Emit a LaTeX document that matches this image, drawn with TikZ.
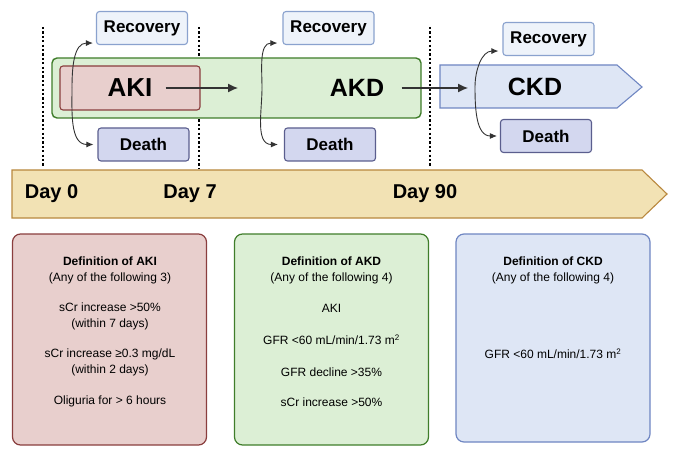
\documentclass[tikz,border=0pt]{standalone}
\usepackage{fontspec}
\setmainfont{Liberation Sans}
\usetikzlibrary{arrows.meta}

\definecolor{recfill}{HTML}{EEF3FA}
\definecolor{recline}{HTML}{8AA2CE}
\definecolor{deathfill}{HTML}{D3D7EF}
\definecolor{deathline}{HTML}{5B5E8E}
\definecolor{akifill}{HTML}{E8CFCD}
\definecolor{akiline}{HTML}{8A3E3E}
\definecolor{akdfill}{HTML}{DCEFD5}
\definecolor{akdline}{HTML}{3F7D2A}
\definecolor{ckdfill}{HTML}{DEE6F5}
\definecolor{ckdline}{HTML}{6F86C2}
\definecolor{dayfill}{HTML}{F2E2B4}
\definecolor{dayline}{HTML}{B9883E}
\definecolor{arrowgray}{HTML}{333333}

\tikzset{
  outcome/.style={rounded corners=3pt, line width=1.1pt, minimum width=91pt,
    minimum height=33pt, inner sep=0pt, font=\bfseries\fontsize{17}{20}\selectfont},
  recbox/.style={outcome, fill=recfill, draw=recline},
  deathbox/.style={outcome, fill=deathfill, draw=deathline},
  stage/.style={font=\bfseries\fontsize{25}{30}\selectfont},
  daylabel/.style={font=\bfseries\fontsize{20}{24}\selectfont},
  dotline/.style={line width=2pt, dash pattern=on 2.2pt off 2.2pt},
  flow/.style={draw=arrowgray, line width=1.2pt, -{Latex[length=10pt,width=9pt]}},
  branch/.style={draw=arrowgray, line width=0.9pt, -{Latex[length=7pt,width=6pt]}},
  defbox/.style={rounded corners=8pt, line width=1.2pt, minimum width=194pt, inner sep=0pt},
  deftext/.style={align=center, font=\fontsize{12}{16}\selectfont, inner sep=0pt}
}

\begin{document}
\begin{tikzpicture}[x=1pt, y=-1pt]
\useasboundingbox (0,0) rectangle (676,454);
\def\ty{88}

\draw[dotline] (43,27) -- (43,167);
\draw[dotline] (199,27) -- (199,168);
\draw[dotline] (430,27) -- (430,167);

\node[rounded corners=5pt, line width=1.4pt, fill=akdfill, draw=akdline,
  minimum width=369pt, minimum height=60pt] (akdbox) at (236.5, \ty) {};
\node[rounded corners=3pt, line width=1.1pt, fill=akifill, draw=akiline,
  minimum width=140pt, minimum height=44pt, font=\bfseries\fontsize{26}{30}\selectfont]
  (aki) at (130, \ty) {AKI};
\node[stage] (akd) at (357, \ty) {AKD};
\draw[ckdline, fill=ckdfill, line width=1.1pt]
  (440,65) -- (617,65) -- (642,87) -- (617,108) -- (440,108) -- cycle;
\node[stage] (ckd) at (535, 87) {CKD};

\node[recbox] (rec1) at (142, 28) {Recovery};
\node[recbox] (rec2) at (328.5, 28) {Recovery};
\node[recbox] (rec3) at (548.5, 39) {Recovery};
\node[deathbox] (death1) at (143.5, 144.5) {Death};
\node[deathbox] (death2) at (330, 144.5) {Death};
\node[deathbox] (death3) at (546, 136) {Death};

\coordinate (akiend) at (238, \ty);
\coordinate (akdend) at (468, \ty);
\draw[flow] ([xshift=-35pt]aki.east) -- (akiend);
\draw[flow] ([xshift=14pt]akd.east) -- (akdend);

\coordinate (split1) at (72, \ty);
\coordinate (split2) at (262, \ty);
\coordinate (split3) at (475, 87);
\draw[branch] (split1) to[out=90, in=180] ([xshift=-3pt, yshift=2pt]rec1.south west);
\draw[branch] (split1) to[out=-90, in=180] ([xshift=-4pt]death1.west);
\draw[branch] (split2) to[out=90, in=180] ([xshift=-5pt, yshift=2pt]rec2.south west);
\draw[branch] (split2) to[out=-90, in=180] ([xshift=-6pt]death2.west);
\draw[branch] (split3) to[out=90, in=180] ([xshift=-4pt, yshift=5pt]rec3.south west);
\draw[branch] (split3) to[out=-90, in=180] ([xshift=-3pt]death3.west);

\draw[dayline, fill=dayfill, line width=1.1pt]
  (12,170) -- (642,170) -- (667,194) -- (642,218) -- (12,218) -- cycle;
\node[daylabel] (day0) at (51.5, 194) {Day 0};
\node[daylabel] (day7) at (190, 194) {Day 7};
\node[daylabel] (day90) at (425, 194) {Day 90};

\node[defbox, fill=akifill, draw=akiline, minimum height=211pt] (akidef) at (109.5, 339.5) {};
\node[defbox, fill=akdfill, draw=akdline, minimum height=211pt] (akddef) at (331.5, 339.5) {};
\node[defbox, fill=ckdfill, draw=ckdline, minimum height=208pt] (ckddef) at (553, 338) {};

\node[deftext] (akihead) at (110, 270) {\textbf{Definition of AKI}\\(Any of the following 3)};
\node[deftext] (akiA) at (110, 316) {sCr increase >50\%\\(within 7 days)};
\node[deftext] (akiB) at (110, 362.5) {sCr increase ≥0.3 mg/dL\\(within 2 days)};
\node[deftext] (akiC) at (110, 401) {Oliguria for > 6 hours};

\node[deftext] (akdhead) at (331.5, 270) {\textbf{Definition of AKD}\\(Any of the following 4)};
\node[deftext] (akdA) at (331.5, 308) {AKI};
\node[deftext] (akdB) at (331.5, 340) {GFR <60 mL/min/1.73 m\textsuperscript{2}};
\node[deftext] (akdC) at (331.5, 372) {GFR decline >35\%};
\node[deftext] (akdD) at (331.5, 402) {sCr increase >50\%};

\node[deftext] (ckdhead) at (553, 270) {\textbf{Definition of CKD}\\(Any of the following 4)};
\node[deftext] (ckdA) at (553, 354) {GFR <60 mL/min/1.73 m\textsuperscript{2}};
\end{tikzpicture}
\end{document}
